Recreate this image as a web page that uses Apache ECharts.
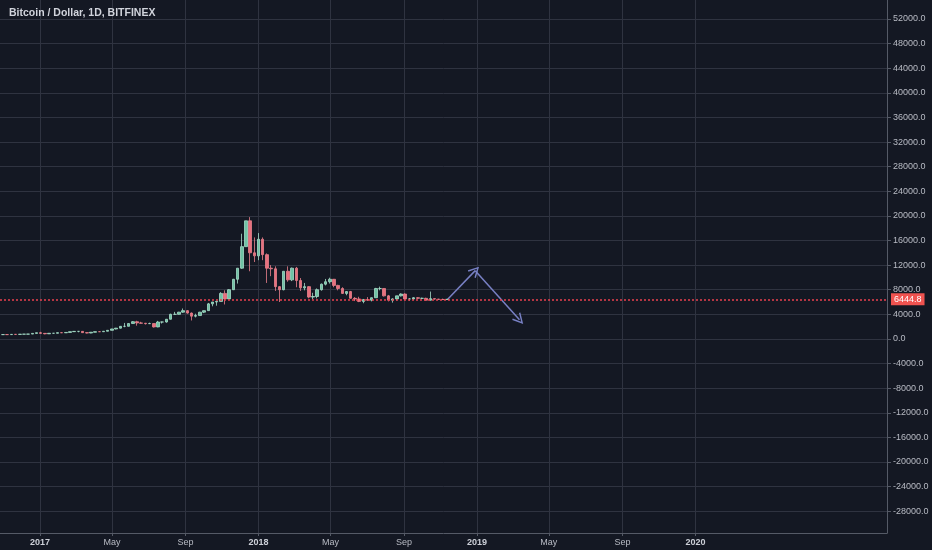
<!DOCTYPE html>
<html>
<head>
<meta charset="utf-8">
<script src="https://cdn.jsdelivr.net/npm/echarts@6/dist/echarts.min.js"></script>
<style>
html,body{margin:0;padding:0;background:#131722;}
#chart{width:932px;height:550px;}
</style>
</head>
<body>
<div id="chart"></div>
<script>
// Weekly candles: date, open, close, low, high
const dates = ['2016-10-31','2016-11-07','2016-11-14','2016-11-21','2016-11-28','2016-12-05','2016-12-12','2016-12-19','2016-12-26',
'2017-01-02','2017-01-09','2017-01-16','2017-01-23','2017-01-30','2017-02-06','2017-02-13','2017-02-20','2017-02-27','2017-03-06','2017-03-13','2017-03-20','2017-03-27',
'2017-04-03','2017-04-10','2017-04-17','2017-04-24','2017-05-01','2017-05-08','2017-05-15','2017-05-22','2017-05-29','2017-06-05','2017-06-12','2017-06-19','2017-06-26',
'2017-07-03','2017-07-10','2017-07-17','2017-07-24','2017-07-31','2017-08-07','2017-08-14','2017-08-21','2017-08-28','2017-09-04','2017-09-11','2017-09-18','2017-09-25',
'2017-10-02','2017-10-09','2017-10-16','2017-10-23','2017-10-30','2017-11-06','2017-11-13','2017-11-20','2017-11-27','2017-12-04','2017-12-11','2017-12-18','2017-12-25',
'2018-01-01','2018-01-08','2018-01-15','2018-01-22','2018-01-29','2018-02-05','2018-02-12','2018-02-19','2018-02-26','2018-03-05','2018-03-12','2018-03-19','2018-03-26',
'2018-04-02','2018-04-09','2018-04-16','2018-04-23','2018-04-30','2018-05-07','2018-05-14','2018-05-21','2018-05-28','2018-06-04','2018-06-11','2018-06-18','2018-06-25',
'2018-07-02','2018-07-09','2018-07-16','2018-07-23','2018-07-30','2018-08-06','2018-08-13','2018-08-20','2018-08-27','2018-09-03','2018-09-10','2018-09-17','2018-09-24',
'2018-10-01','2018-10-08','2018-10-15','2018-10-22','2018-10-29','2018-11-05','2018-11-12'];
const opens = [700,705,702,740,735,765,780,790,900,
1010,905,830,920,920,1020,995,1055,1180,1230,1230,1020,960,
1090,1180,1170,1250,1400,1620,1750,2050,2050,2500,2800,2600,2550,
2480,2500,1950,2750,2750,3200,4000,4000,4350,4600,4200,3700,3800,
4350,4600,5700,6000,6100,7400,6500,8000,9700,11500,15000,19200,14000,
13500,16200,13700,11500,11400,8500,8000,11000,9600,11500,9500,8300,8500,
6800,6900,8000,8900,9300,9700,8700,8200,7400,7700,6600,6500,6100,
6400,6300,6700,8200,8200,7000,6300,6500,7000,7300,6500,6500,6700,
6600,6600,6300,6550,6480,6420,6400];
const closes = [705,702,740,735,765,780,790,900,1010,
905,830,920,920,1020,995,1055,1180,1230,1230,1020,960,1090,
1180,1170,1250,1400,1620,1750,2050,2050,2500,2800,2600,2550,2480,
2500,1950,2750,2750,3200,4000,4000,4350,4600,4200,3700,3800,4350,
4600,5700,6000,6100,7400,6500,8000,9700,11500,15000,19200,14000,13500,
16200,13700,11500,11400,8500,8000,11000,9600,11500,9500,8300,8500,6800,
6900,8000,8900,9300,9700,8700,8200,7400,7700,6600,6500,6100,6400,
6300,6700,8200,8200,7000,6300,6500,7000,7300,6500,6500,6700,6600,
6600,6300,6550,6480,6420,6400,6444.8];
const lows = [680,690,695,725,730,755,770,785,890,
830,760,820,885,915,970,990,1050,1160,1080,990,900,930,
1080,1150,1160,1240,1390,1550,1700,1900,2050,2470,2150,2500,2350,
2460,1850,1900,2500,2650,3150,3950,3950,4250,4100,3000,3500,3800,
4200,4600,5300,5400,6100,5600,6500,7950,9000,11400,15000,11000,12500,
12800,12800,9100,10200,7800,6000,7900,9300,9400,8400,7800,7900,6600,
6450,6600,7850,8700,9000,8400,7900,7300,7100,6550,6150,5980,5800,
6200,6100,6700,7900,6900,6100,5900,6250,6900,6300,6200,6300,6500,
6500,6200,6250,6400,6350,6350,6350];
const highs = [745,740,750,750,775,785,795,935,1010,
1150,915,930,930,1035,1060,1060,1200,1290,1270,1250,1070,1100,
1200,1215,1260,1420,1640,1790,2100,2600,2550,2900,2950,2780,2600,
2640,2520,2930,2800,3240,4100,4400,4400,4950,4700,4300,4100,4400,
4620,5850,6000,6200,7600,7900,8100,9750,11500,17100,19200,19800,16500,
17200,16500,13900,12000,11800,8600,11000,11800,11600,11700,9900,9100,8600,
7500,8200,9000,9750,9950,9600,8800,8400,7750,7800,6800,6850,6500,
6800,6750,8300,8500,8250,7150,6600,7000,7400,7400,6600,6800,6800,
6700,6700,7700,6600,6500,6550,6480];

// Last price line
const lastPrice = 6444.8;
const lastDate = '2018-11-12';
// Projection arrow path (date, price)
const arrowDates = ['2018-11-13','2018-12-29','2019-03-13'];
const arrowPrices = [6444.8, 11100, 3100];

// Axis ticks
const xTickDates = ['2017-01-01','2017-05-01','2017-09-01','2018-01-01','2018-05-01','2018-09-01','2019-01-01','2019-05-01','2019-09-01','2020-01-01'];
const xTickLabels = ['2017','May','Sep','2018','May','Sep','2019','May','Sep','2020'];
const xTickIsYear = [true,false,false,true,false,false,true,false,false,true];
const yTicks = [-28000,-24000,-20000,-16000,-12000,-8000,-4000,0,4000,8000,12000,16000,20000,24000,28000,32000,36000,40000,44000,48000,52000];

function toTime(s){ const p = s.split('-').map(Number); return Date.UTC(p[0], p[1]-1, p[2]); }
const xTickTimes = xTickDates.map(toTime);

const candleData = dates.map((d,i)=>[toTime(d), opens[i], closes[i], lows[i], highs[i]]);
const arrowSegs = [];
for (let i=0;i<arrowDates.length-1;i++){
  arrowSegs.push({coords:[[toTime(arrowDates[i]), arrowPrices[i]],[toTime(arrowDates[i+1]), arrowPrices[i+1]]]});
}

const gridColor = '#2f3340';
const axisColor = '#555a66';
const textColor = '#b8bbc4';
const priceRed = '#e8404f';
const fontFam = 'Liberation Sans, Arial, sans-serif';

const chart = echarts.init(document.getElementById('chart'), null, {renderer:'canvas'});
chart.setOption({
  animation:false,
  backgroundColor:'#141823',
  title:{
    text:'Bitcoin / Dollar, 1D, BITFINEX',
    left:4, top:3,
    textStyle:{color:'#d1d4dc', fontSize:10.5, fontWeight:'bold', fontFamily:fontFam}
  },
  grid:{left:0, right:45, top:0, bottom:17, containLabel:false},
  xAxis:{
    type:'value',
    min:toTime('2016-10-26'),
    max:toTime('2020-11-16'),
    axisLine:{show:true, onZero:false, lineStyle:{color:axisColor}},
    axisTick:{show:true, length:3, lineStyle:{color:axisColor}, customValues:xTickTimes},
    splitLine:{show:true, lineStyle:{color:gridColor, width:1}},
    axisLabel:{
      customValues:xTickTimes,
      margin:5,
      color:textColor, fontSize:9, fontFamily:fontFam,
      formatter:function(v){
        let i = -1;
        for (let k=0;k<xTickTimes.length;k++){ if (Math.abs(xTickTimes[k]-v) < 1000) { i = k; break; } }
        if (i<0) return '';
        return xTickIsYear[i] ? '{y|'+xTickLabels[i]+'}' : xTickLabels[i];
      },
      rich:{y:{fontWeight:'bold', color:'#cdd0d8', fontSize:9, fontFamily:fontFam}}
    }
  },
  yAxis:{
    type:'value',
    position:'right',
    min:-31545, max:55090,
    axisLine:{show:true, lineStyle:{color:axisColor}},
    axisTick:{show:true, length:4, lineStyle:{color:axisColor}, customValues:yTicks},
    splitLine:{show:true, lineStyle:{color:gridColor, width:1}},
    axisLabel:{
      customValues:yTicks,
      margin:6,
      color:textColor, fontSize:9, fontFamily:fontFam,
      formatter:function(v){ return Number(v).toFixed(1); }
    }
  },
  series:[
    {
      type:'line',
      data:[[toTime(lastDate), lastPrice]],
      symbol:'none',
      color:priceRed,
      lineStyle:{color:priceRed},
      z:1,
      markLine:{
        silent:true,
        symbol:'none',
        lineStyle:{type:[2,2], color:priceRed, width:1.5, opacity:1},
        label:{
          position:'end', distance:4,
          formatter:function(){ return lastPrice.toFixed(1); },
          backgroundColor:'#ef5350', color:'#ffffff',
          fontSize:9, fontFamily:fontFam, padding:[2,3,1,3]
        },
        data:[{yAxis:lastPrice}]
      }
    },
    {
      type:'candlestick',
      data:candleData,
      barWidth:3,
      z:3,
      itemStyle:{color:'#6fc3a5', color0:'#e8707e', borderColor:'#a6dcc8', borderColor0:'#e8808c', borderWidth:0.8}
    },
    {
      type:'lines',
      coordinateSystem:'cartesian2d',
      data:arrowSegs,
      symbol:['none','path://M5,0 L10,9 L8.8,9.6 L5,2.6 L1.2,9.6 L0,9 Z'],
      symbolSize:11,
      lineStyle:{color:'#7880c4', width:1.5, opacity:1},
      itemStyle:{color:'#7880c4'},
      silent:true
    }
  ]
});
</script>
</body>
</html>
